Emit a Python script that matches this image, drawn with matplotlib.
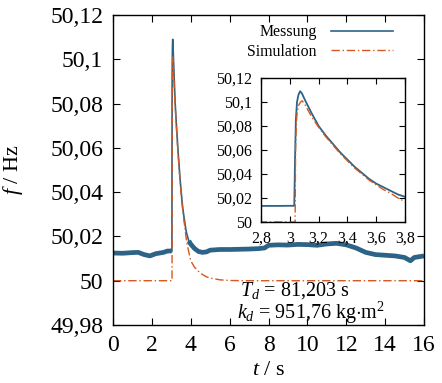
import matplotlib
matplotlib.use("Agg")
import matplotlib.pyplot as plt
import numpy as np

plt.rcParams['font.family'] = ['Liberation Serif', 'DejaVu Serif']
plt.rcParams['mathtext.fontset'] = 'custom'
plt.rcParams['mathtext.rm'] = 'Liberation Serif'
plt.rcParams['mathtext.it'] = 'Liberation Serif:italic'

# ---- data ----
meas_t = [0.0, 0.5, 1.0, 1.3, 1.6, 1.9, 2.2, 2.6, 2.8, 2.9, 3.0, 3.031,
          3.036, 3.042, 3.05, 3.06, 3.072, 3.085, 3.1, 3.15, 3.2, 3.25, 3.3,
          3.35, 3.4, 3.45, 3.5, 3.55, 3.6, 3.65, 3.7, 3.75, 3.8, 3.9, 4.0,
          4.2, 4.4, 4.6, 4.8, 5.0, 5.5, 6.0, 6.5, 7.0, 7.5, 7.8, 8.0, 8.5,
          9.0, 9.5, 10.0, 10.5, 11.0, 11.5, 12.0, 12.5, 13.0, 13.5, 14.0,
          14.5, 15.0, 15.3, 15.5, 16.0]
meas_f = [50.0125, 50.0124, 50.0127, 50.0128, 50.0118, 50.0112, 50.0122,
          50.0128, 50.0134, 50.0134, 50.0135, 50.0135,
          50.050, 50.085, 50.100, 50.106, 50.109, 50.107, 50.103, 50.091,
          50.080, 50.072, 50.065, 50.058, 50.052, 50.046, 50.041, 50.036,
          50.032, 50.029, 50.026, 50.023, 50.021, 50.018, 50.0165,
          50.0145, 50.0132, 50.0128, 50.0130, 50.0138, 50.0141, 50.0141,
          50.0142, 50.0143, 50.0145, 50.0148, 50.0160, 50.0162,
          50.0161, 50.0164, 50.0163, 50.0160, 50.0166, 50.0169, 50.0162,
          50.0148, 50.0128, 50.0118, 50.0115, 50.0112, 50.0105, 50.0090,
          50.0105, 50.0112]

sim_t = [0.0, 3.037, 3.040, 3.045, 3.05, 3.06, 3.075, 3.085, 3.1, 3.15,
         3.2, 3.25, 3.3, 3.35, 3.4, 3.45, 3.5, 3.55, 3.6, 3.65, 3.7, 3.75,
         3.8, 3.9, 4.0, 4.2, 4.4, 4.6, 4.8, 5.0, 5.5, 6.0, 7.0, 16.0]
sim_f = [50.0, 50.0, 50.060, 50.082, 50.090, 50.097, 50.100, 50.101,
         50.099, 50.088, 50.079, 50.071, 50.064, 50.057, 50.051, 50.045,
         50.040, 50.035, 50.031, 50.027, 50.024, 50.020, 50.017, 50.013,
         50.009, 50.006, 50.0042, 50.0028, 50.0018, 50.0012, 50.0004,
         50.0001, 50.0, 50.0]

x_ticks = [0, 2, 4, 6, 8, 10, 12, 14, 16]
x_labels = ['0', '2', '4', '6', '8', '10', '12', '14', '16']
y_ticks = [49.98, 50.0, 50.02, 50.04, 50.06, 50.08, 50.1, 50.12]
y_labels = ['49,98', '50', '50,02', '50,04', '50,06', '50,08', '50,1', '50,12']

ix_ticks = [2.8, 3.0, 3.2, 3.4, 3.6, 3.8]
ix_labels = ['2,8', '3', '3,2', '3,4', '3,6', '3,8']
iy_ticks = [50.0, 50.02, 50.04, 50.06, 50.08, 50.1, 50.12]
iy_labels = ['50', '50,02', '50,04', '50,06', '50,08', '50,1', '50,12']

c_meas = '#2d6387'
c_sim = '#d5581c'

fig = plt.figure(figsize=(4.42, 3.83), dpi=100)
ax = fig.add_axes([113/442, 1-325/383, 311/442, 310/383])

mt = np.array(meas_t)
mf = np.array(meas_f)
ln_m, = ax.plot(mt, mf, color=c_meas, lw=1.2, label='Messung')
pre = mt <= 3.031
post = mt >= 3.9
ax.plot(mt[pre], mf[pre], color=c_meas, lw=3.4, solid_capstyle='butt')
ax.plot(mt[post], mf[post], color=c_meas, lw=3.4, solid_capstyle='butt')
ln_s, = ax.plot(sim_t, sim_f, color=c_sim, lw=1.0, ls=(0, (6, 2, 1, 2)), label='Simulation')

ax.set_xlim(0, 16)
ax.set_ylim(49.98, 50.12)
ax.set_xticks(x_ticks)
ax.set_xticklabels(x_labels)
ax.set_yticks(y_ticks)
ax.set_yticklabels(y_labels)
ax.tick_params(direction='in', top=True, right=True, length=5, width=0.8,
               labelsize=17, pad=7)
for s in ax.spines.values():
    s.set_linewidth(1.0)
ax.set_xlabel(r'$t$ / s', fontsize=16, labelpad=4)
ax.set_ylabel(r'$f$ / Hz', fontsize=16, labelpad=18)

leg = ax.legend(handles=[ln_m, ln_s], loc='upper right', bbox_to_anchor=(0.93, 1.0),
                frameon=False, markerfirst=False, fontsize=11.4, handlelength=3.9,
                labelspacing=0.2, borderaxespad=0.2, handletextpad=0.9)

ax.text(6.53, 49.9932, r'$T_d$ = 81,203 s', fontsize=14.5, va='baseline', ha='left')
ax.text(6.4, 49.9830, r'$k_d$ = 951,76 kg$\cdot$m$^2$', fontsize=14.5, va='baseline', ha='left')

# ---- inset ----
ins = fig.add_axes([261/442, 1-222/383, 144/442, 144/383])
ins.plot(meas_t, meas_f, color=c_meas, lw=1.3)
ins.plot(sim_t, sim_f, color=c_sim, lw=1.0, ls=(0, (6, 2, 1, 2)))
ins.set_xlim(2.8, 3.8)
ins.set_ylim(50.0, 50.12)
ins.set_xticks(ix_ticks)
ins.set_xticklabels(ix_labels)
ins.set_yticks(iy_ticks)
ins.set_yticklabels(iy_labels)
ins.tick_params(direction='in', top=True, right=True, length=4, width=0.8,
                labelsize=11.5, pad=6.5)
for s in ins.spines.values():
    s.set_linewidth(1.0)

fig.savefig('out.png', dpi=100)
